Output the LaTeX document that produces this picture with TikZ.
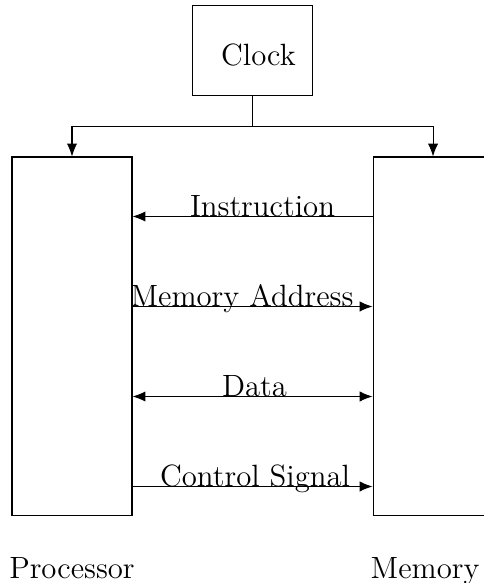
\documentclass[tikz,border=0pt]{standalone}
\usetikzlibrary{arrows.meta}
\usetikzlibrary{positioning}
\usetikzlibrary{calc}

\begin{document}
\begin{tikzpicture}[->,>={Latex[length=5pt,width=4pt]},x=3.9pt,y=3.9pt,font=\large]
	\tikzset{block/.style = {shape=rectangle, draw, minimum width=46.8pt}}
	\tikzset{signal/.style = {anchor=base, inner sep=0pt}}
	\useasboundingbox (0,0) rectangle (48.3,58.3);
	\node[block, minimum height=140pt, label = {[label distance=12.3pt]below:Processor}] (PROC) at (7.2,24.65) {};
	\node[block, minimum height=140pt, right=93.6pt of PROC, label = {[label distance=12.3pt, xshift=-3.1pt]below:Memory}] (MEM) {};
	\coordinate (TOP) at ($(PROC.north)!0.5!(MEM.north)$);
	\node[block, minimum height=35.1pt, above=23.4pt of TOP, label = {[xshift=2.3pt, yshift=-1.6pt]center:Clock}] (CLOCK) {};
	
	\coordinate (BUS) at ($(CLOCK.south)+(0,-3)$);
	\draw[-] (CLOCK.south) -- (BUS);
	\draw (BUS) -| (PROC.north);
	\draw (BUS) -| (MEM.north);
	
	\draw[<-] ($(PROC.north east)+(0,-6)$) -- ($(MEM.north west)+(0,-6)$) node[signal, midway, xshift=3.9pt] {Instruction};
	\draw ($(PROC.north east)+(0,-15)$) -- ($(MEM.north west)+(0,-15)$) node[signal, midway, xshift=-4.1pt] {Memory Address};
	\draw[<->] ($(PROC.north east)+(0,-24)$) -- ($(MEM.north west)+(0,-24)$) node[signal, midway, xshift=0.8pt] {Data};
	\draw ($(PROC.north east)+(0,-33)$) -- ($(MEM.north west)+(0,-33)$) node[signal, midway, xshift=1pt] {Control Signal};
\end{tikzpicture}
\end{document}
